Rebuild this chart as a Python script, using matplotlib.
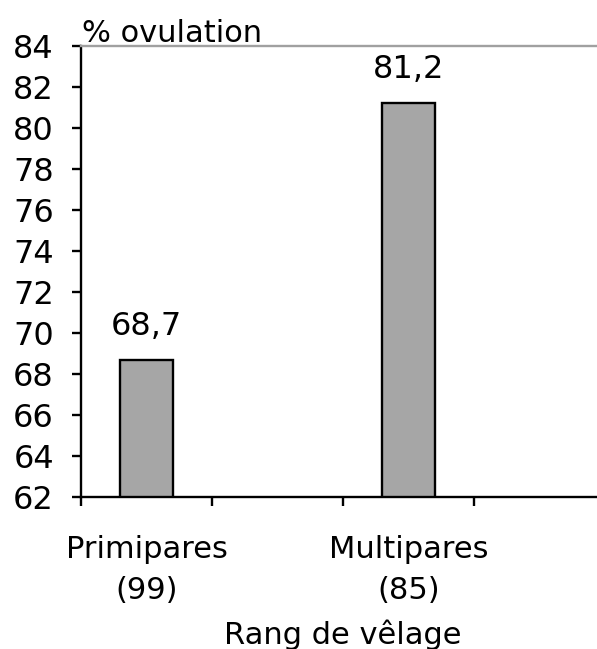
import numpy as np
import matplotlib
matplotlib.use("Agg")
import matplotlib.pyplot as plt

# Taux d'ovulation selon le rang de vêlage (4 emplacements, 2 remplis)
categories = ["Primipares\n(99)", "", "Multipares\n(85)", ""]
ovulation = [68.7, None, 81.2, None]
y_ticks = list(range(62, 86, 2))

plt.rcParams["font.family"] = ["DejaVu Sans"]

fig = plt.figure(figsize=(5.97, 6.49), dpi=100)
ax = fig.add_axes([81 / 597, 152 / 649, 524 / 597, 451 / 649])

slots = np.arange(len(categories))
for x, v in zip(slots, ovulation):
    if v is None:
        continue
    ax.bar(x, v, width=0.41, color="#a6a6a6", edgecolor="black", linewidth=1.7)
    ax.annotate(f"{v:.1f}".replace(".", ","), xy=(x, v), xytext=(0, 18),
                textcoords="offset points", ha="center", va="baseline",
                fontsize=23)

ax.set_xlim(-0.5, len(categories) - 0.5)
ax.set_ylim(y_ticks[0], y_ticks[-1])
ax.set_yticks(y_ticks)

# ticks at category boundaries, labels centred in each slot
ax.set_xticks(np.arange(len(categories) + 1) - 0.5)
ax.set_xticklabels([])
ax.set_xticks(slots, minor=True)
ax.set_xticklabels(categories, minor=True, fontsize=22, linespacing=1.55)
ax.tick_params(axis="x", which="minor", length=0, pad=27)
ax.tick_params(axis="x", which="major", direction="out", length=6.5, width=1.7)
ax.tick_params(axis="y", direction="out", length=6.5, width=1.7, labelsize=23, pad=13)

for side in ("left", "bottom"):
    ax.spines[side].set_linewidth(1.7)
ax.spines["right"].set_visible(False)
ax.spines["top"].set_color("#a0a0a0")
ax.spines["top"].set_linewidth(1.7)

ax.annotate("% ovulation", xy=(0, 1), xycoords="axes fraction", xytext=(1, 3),
            textcoords="offset points", ha="left", va="baseline", fontsize=22)
ax.set_xlabel("Rang de vêlage", fontsize=22, labelpad=10)

fig.savefig("out.png", dpi=100)
